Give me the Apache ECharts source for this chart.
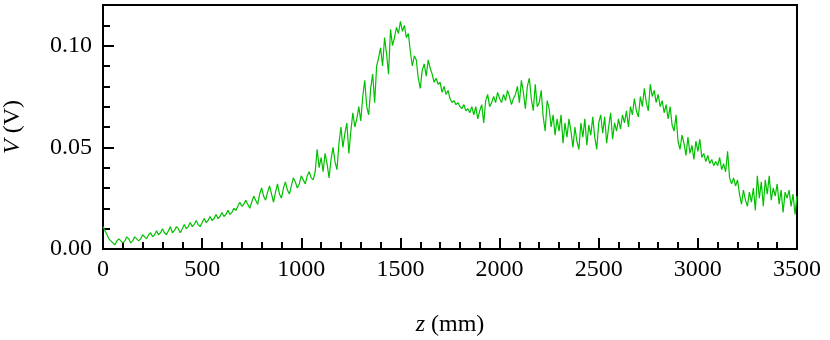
<!DOCTYPE html>
<html lang="en">
<head>
  <meta charset="UTF-8">
  <title>V vs z</title>
  <script src="https://cdn.jsdelivr.net/npm/echarts@6/dist/echarts.min.js"></script>
  <style>
    body { margin: 0; background: #fff; }
    #chart { width: 830px; height: 340px; }
  </style>
</head>
<body>
  <div id="chart"></div>
  <script>
    // sampling grid along z (mm)
    var zStart = 0;
    var zStep = 10;

    // measured voltage (V), one value per 10 mm from 0 to 3500
    var voltage = [
      0.011, 0.009, 0.007, 0.005, 0.004, 0.003, 0.002, 0.004, 0.005, 0.004,
      0.003, 0.004, 0.006, 0.005, 0.003, 0.004, 0.006, 0.006, 0.004, 0.005,
      0.007, 0.006, 0.005, 0.007, 0.008, 0.006, 0.007, 0.009, 0.007, 0.008,
      0.010, 0.008, 0.007, 0.009, 0.011, 0.008, 0.009, 0.011, 0.010, 0.008,
      0.010, 0.012, 0.010, 0.011, 0.013, 0.011, 0.012, 0.014, 0.012, 0.011,
      0.013, 0.015, 0.013, 0.014, 0.016, 0.014, 0.015, 0.017, 0.015, 0.016,
      0.018, 0.016, 0.017, 0.019, 0.017, 0.018, 0.020, 0.019, 0.021, 0.023,
      0.021, 0.022, 0.024, 0.022, 0.020, 0.023, 0.026, 0.024, 0.022, 0.027,
      0.030, 0.026, 0.024, 0.028, 0.031, 0.027, 0.023, 0.028, 0.032, 0.027,
      0.025, 0.030, 0.033, 0.029, 0.027, 0.031, 0.035, 0.033, 0.030, 0.032,
      0.036, 0.034, 0.032, 0.036, 0.038, 0.035, 0.034, 0.038, 0.049, 0.040,
      0.045, 0.038, 0.047, 0.042, 0.035, 0.044, 0.050, 0.043, 0.039, 0.052,
      0.060, 0.050, 0.057, 0.062, 0.047, 0.058, 0.067, 0.060, 0.064, 0.070,
      0.063, 0.075, 0.083, 0.070, 0.066, 0.079, 0.086, 0.072, 0.090, 0.094,
      0.099, 0.090, 0.104, 0.096, 0.086, 0.108, 0.100, 0.104, 0.109, 0.106,
      0.112, 0.107, 0.110, 0.104, 0.106, 0.097, 0.090, 0.095, 0.093, 0.084,
      0.079, 0.088, 0.091, 0.085, 0.093, 0.089, 0.086, 0.082, 0.084, 0.081,
      0.082, 0.077, 0.080, 0.076, 0.078, 0.074, 0.072, 0.073, 0.071, 0.072,
      0.070, 0.069, 0.071, 0.068, 0.069, 0.067, 0.070, 0.066, 0.070, 0.064,
      0.068, 0.071, 0.062, 0.073, 0.076, 0.070, 0.072, 0.075, 0.072, 0.077,
      0.074, 0.072, 0.076, 0.073, 0.078, 0.075, 0.071, 0.074, 0.076, 0.080,
      0.072, 0.083, 0.077, 0.069, 0.080, 0.084, 0.074, 0.068, 0.081, 0.070,
      0.072, 0.078, 0.065, 0.058, 0.073, 0.069, 0.060, 0.066, 0.056, 0.064,
      0.058, 0.066, 0.052, 0.062, 0.055, 0.064, 0.058, 0.050, 0.060, 0.053,
      0.049, 0.062, 0.055, 0.064, 0.051, 0.061, 0.056, 0.065, 0.055, 0.049,
      0.062, 0.066, 0.057, 0.065, 0.052, 0.060, 0.067, 0.054, 0.062, 0.058,
      0.064, 0.059, 0.066, 0.062, 0.068, 0.060, 0.070, 0.066, 0.074, 0.068,
      0.065, 0.075, 0.070, 0.079, 0.072, 0.068, 0.081, 0.075, 0.078, 0.072,
      0.076, 0.070, 0.073, 0.067, 0.071, 0.064, 0.070, 0.061, 0.058, 0.066,
      0.053, 0.049, 0.056, 0.052, 0.046, 0.055, 0.047, 0.051, 0.044, 0.053,
      0.048, 0.054, 0.045, 0.047, 0.043, 0.046, 0.042, 0.044, 0.041, 0.043,
      0.041, 0.045, 0.039, 0.042, 0.038, 0.048, 0.035, 0.032, 0.035, 0.031,
      0.034, 0.027, 0.022, 0.029, 0.024, 0.021, 0.028, 0.023, 0.030, 0.019,
      0.036, 0.025, 0.033, 0.021, 0.034, 0.027, 0.036, 0.024, 0.030, 0.026,
      0.032, 0.022, 0.029, 0.018, 0.028, 0.025, 0.029, 0.021, 0.027, 0.017,
      0.026
    ];

    var points = voltage.map(function (v, i) {
      return [zStart + i * zStep, v];
    });

    var font = 'Liberation Serif';
    var fs = 24;
    var chart = echarts.init(document.getElementById('chart'));

    function ticks(len) {
      return { show: true, inside: true, length: len, lineStyle: { color: '#000', width: 2 } };
    }

    var option = {
      animation: false,
      grid: {
        left: 103, right: 33, top: 5, bottom: 91,
        outerBoundsMode: 'none',
        show: true, borderColor: '#000', borderWidth: 2
      },
      xAxis: [
        {
          type: 'value',
          min: 0, max: 3500, interval: 500,
          name: '{i|z} (mm)',
          nameLocation: 'middle',
          nameGap: 64,
          nameTextStyle: {
            fontFamily: font, fontSize: fs, color: '#000',
            rich: { i: { fontFamily: font, fontSize: fs, fontStyle: 'italic', color: '#000' } }
          },
          axisLine: { show: false },
          axisTick: ticks(11),
          axisLabel: {
            fontFamily: font, fontSize: fs, color: '#000', margin: 9,
            hideOverlap: false,
            formatter: function (v) { return String(v); }
          },
          splitLine: { show: false }
        },
        {
          // minor ticks every 100 mm
          type: 'value',
          position: 'bottom',
          min: 0, max: 3500, interval: 100,
          axisLine: { show: false },
          axisTick: ticks(7),
          axisLabel: { show: false },
          splitLine: { show: false }
        }
      ],
      yAxis: [
        {
          type: 'value',
          min: 0, max: 0.12, interval: 0.05,
          name: '{i|V} (V)',
          nameLocation: 'middle',
          nameRotate: 90,
          nameGap: 78,
          nameTextStyle: {
            fontFamily: font, fontSize: fs, color: '#000',
            rich: { i: { fontFamily: font, fontSize: fs, fontStyle: 'italic', color: '#000' } }
          },
          axisLine: { show: false },
          axisTick: ticks(11),
          axisLabel: {
            fontFamily: font, fontSize: fs, color: '#000', margin: 11,
            showMaxLabel: false,
            formatter: function (v) { return v.toFixed(2); }
          },
          splitLine: { show: false }
        },
        {
          // minor ticks every 0.01 V
          type: 'value',
          position: 'left',
          min: 0, max: 0.12, interval: 0.01,
          axisLine: { show: false },
          axisTick: ticks(7),
          axisLabel: { show: false },
          splitLine: { show: false }
        }
      ],
      series: [
        {
          type: 'line',
          data: points,
          showSymbol: false,
          lineStyle: { color: '#00c000', width: 1.2 }
        }
      ]
    };

    chart.setOption(option);
  </script>
</body>
</html>
